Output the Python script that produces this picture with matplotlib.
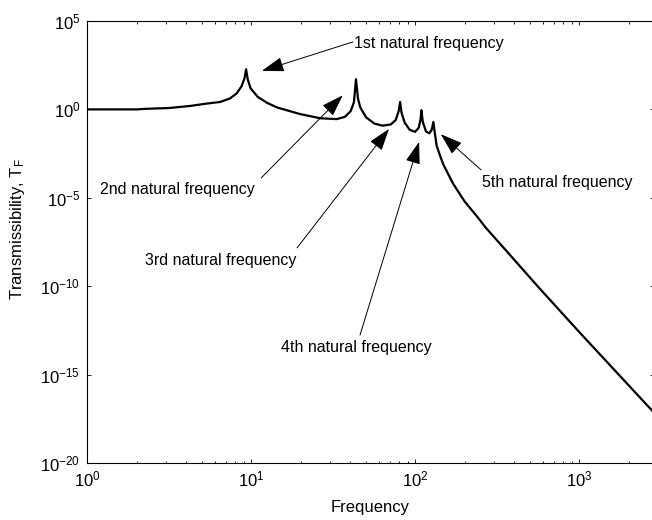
import matplotlib
matplotlib.use("Agg")
import matplotlib.pyplot as plt
from matplotlib.ticker import LogLocator, NullLocator, NullFormatter

# curve (Hz, transmissibility)
freq = [1.0, 2.0, 2.24, 3.16, 4.27, 5.25, 6.46, 7.41, 8.13, 8.71, 9.08, 9.29,
        9.51, 9.89, 10.96, 12.59, 14.45, 19.95, 26.3, 33.1, 37.2, 40.3, 42.2,
        43.45, 44.7, 46.2, 50.1, 56.2, 63.1, 70.8, 75.9, 79.1, 80.7, 82.4,
        86.1, 92.3, 99.5, 104.7, 107.4, 108.9, 110.9, 116.1, 121.6, 125.9,
        128.8, 131.2, 134.9, 141.3, 147.9, 169.8, 199.5, 239.9, 269.2, 354.8,
        562.3, 1000.0, 1778.0, 2818.0]
trans = [1.0, 1.0, 1.07, 1.2, 1.58, 2.09, 2.63, 4.17, 7.94, 20.0, 56.0, 186.0,
         50.0, 15.8, 5.0, 2.24, 1.26, 0.537, 0.316, 0.282, 0.38, 0.79, 2.5,
         51.0, 4.0, 1.26, 0.355, 0.158, 0.12, 0.141, 0.251, 0.79, 2.63, 0.63,
         0.178, 0.0708, 0.0537, 0.0891, 0.251, 0.89, 0.2, 0.0562, 0.0447,
         0.0708, 0.195, 0.05, 8.7e-3, 2.5e-3, 7.9e-4, 6.3e-5, 6.3e-6, 7.9e-7,
         2.0e-7, 1.12e-8, 8.9e-11, 2.5e-13, 7.9e-16, 7.9e-18]

# annotations: label, text position, arrow start, arrow tip
labels = ["1st natural frequency", "2nd natural frequency", "3rd natural frequency",
          "4th natural frequency", "5th natural frequency"]
text_xy = [(42.3, 5.25e3), (1.2, 2.8e-5), (18.8, 2.7e-9), (43.8, 3.2e-14), (255.0, 7.2e-5)]
text_ha = ["left", "left", "right", "center", "left"]
arrow_from = [(41.7, 6.6e3), (11.5, 1.34e-4), (19.0, 1.47e-8), (46.0, 1.74e-13), (251.6, 3.8e-4)]
arrow_to = [(11.6, 151.0), (36.1, 6.3), (69.1, 0.079), (105.4, 0.0145), (142.9, 0.0398)]

yticks = [1e-20, 1e-15, 1e-10, 1e-5, 1e0, 1e5]

plt.rcParams["font.family"] = ["Liberation Sans", "DejaVu Sans"]
plt.rcParams["mathtext.fontset"] = "custom"
plt.rcParams["mathtext.rm"] = "Liberation Sans"
plt.rcParams["mathtext.it"] = "Liberation Sans:italic"
plt.rcParams["axes.unicode_minus"] = False
plt.rcParams["font.size"] = 11.5

fig = plt.figure(figsize=(6.52, 5.20), dpi=100)
ax = fig.add_axes([87.3 / 652, (520 - 463) / 520, (653.5 - 87.3) / 652, (463 - 21) / 520])

ax.loglog(freq, trans, color="black", linewidth=1.6)

ax.set_xlim(1, 2830)
ax.set_ylim(1e-20, 1e5)
ax.set_yticks(yticks)
ax.yaxis.set_minor_locator(NullLocator())
ax.xaxis.set_minor_locator(LogLocator(base=10, subs=range(2, 10), numticks=20))
ax.xaxis.set_minor_formatter(NullFormatter())

for s in ax.spines.values():
    s.set_linewidth(0.8)
ax.tick_params(which="both", direction="in", top=True, right=True, width=0.6)
ax.tick_params(which="major", length=3.2, pad=5, labelsize=12)
ax.tick_params(which="minor", length=1.8)

ax.set_xlabel("Frequency", fontsize=12, labelpad=7)
ax.set_ylabel("Transmissibility, T$_\\mathrm{F}$", fontsize=12)
ax.yaxis.set_label_coords(-0.107, 0.53)

for lab, txy, ha, a0, a1 in zip(labels, text_xy, text_ha, arrow_from, arrow_to):
    ax.text(txy[0], txy[1], lab, ha=ha, va="center")
    ax.annotate("", xy=a1, xytext=a0,
                arrowprops=dict(arrowstyle="-|>,head_length=1.2,head_width=0.4",
                                color="black", linewidth=0.7,
                                shrinkA=0, shrinkB=0))

fig.savefig("out.png", dpi=100)
